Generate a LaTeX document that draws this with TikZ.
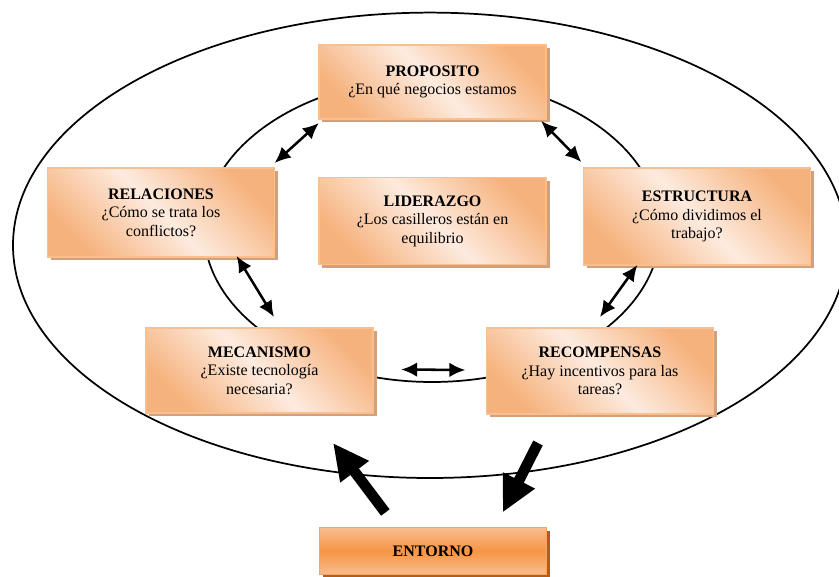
\documentclass[tikz,border=0pt]{standalone}
\usepackage{fontspec}
\setmainfont{Liberation Serif}
\usetikzlibrary{positioning,calc,shadows,arrows.meta}

\definecolor{borde}{HTML}{F9C08E}
\definecolor{oscuro}{HTML}{F6B27D}
\definecolor{clara}{HTML}{FDEBDF}
\definecolor{sombra}{HTML}{D2A07C}
\definecolor{entclaro}{HTML}{F9BD8F}
\definecolor{entmedio}{HTML}{F69545}
\definecolor{entborde}{HTML}{F7A465}
\definecolor{entsombra}{HTML}{B25E1A}

\begin{document}
\begin{tikzpicture}[x=0.75pt,y=-0.75pt,semithick]
    \tikzstyle{every node}=[font=\fontsize{12}{14}\selectfont]
    \tikzstyle{caja}=[rectangle,draw=borde,line width=1.2pt,outer sep=0pt,
        top color=oscuro,bottom color=oscuro,middle color=clara,shading angle=-45,
        minimum width=170.5pt,align=center,
        drop shadow={shadow xshift=2.5pt,shadow yshift=-2.5pt,fill=sombra,opacity=1}]
    \tikzstyle{entorno}=[rectangle,draw=entborde,line width=1.2pt,outer sep=0pt,
        top color=entclaro,bottom color=entclaro,middle color=entmedio,
        minimum width=170.5pt,minimum height=35.25pt,align=center,
        drop shadow={shadow xshift=2.5pt,shadow yshift=-2.5pt,fill=entsombra,opacity=1}]
    \tikzstyle{flecha}=[<->,>={Latex[length=12pt,width=11pt]},line width=1.9pt]
    \tikzstyle{grande}=[-{Triangle[length=27pt,width=25pt]},line width=8pt]

    \useasboundingbox (0,0) rectangle (839,577);

    % circulos
    \draw[line width=1.3pt] (430,245.3) ellipse (417 and 232.7);
    \draw[line width=1.3pt] (432,230) ellipse (228 and 152);

    \node[caja,minimum height=55.5pt] (P) at (432.5,82) {\textbf{PROPOSITO}\\¿En qué negocios estamos};
    \node[caja,minimum height=65.25pt] (L) [below=44pt of P] {\textbf{LIDERAZGO}\\¿Los casilleros están en\\equilibrio};
    \node[caja,minimum height=66.75pt] (R) at (161,212.5) {\textbf{RELACIONES}\\¿Cómo se trata los\\conflictos?};
    \node[caja,minimum height=72.75pt] (E) at (697,216.5) {\textbf{ESTRUCTURA}\\¿Cómo dividimos el\\trabajo?};
    \node[caja,minimum height=63.75pt] (M) at (259.5,370.5) {\textbf{MECANISMO}\\¿Existe tecnología\\necesaria?};
    \node[caja,minimum height=64.5pt] (T) at (600,371) {\textbf{RECOMPENSAS}\\¿Hay incentivos para las\\tareas?};
    \node[entorno] (N) at (433,551) {\textbf{ENTORNO}};

    \coordinate (inL) at (333,443);
    \coordinate (outR) at (538,443);

    \path
    ($(P.south west)+(0,4)$) edge[flecha] ($(R.north east)+(0,-5)$)
    ($(P.south east)+(-5,2)$) edge[flecha] ($(E.north west)+(-2,-6)$)
    ($(R.south east)+(-38,-1)$) edge[flecha] ($(M.north)+(14.5,-11)$)
    ($(E.south west)+(54,0)$) edge[flecha] ($(T.north)+(0,-11)$)
    ($(M.east)+(28,-1)$) edge[flecha] ($(T.west)+(-21,-1)$);

    \draw[grande] ($(N.north west)+(66,-15)$) -- (inL);
    \draw[grande] (outR) -- ($(N.north east)+(-44,-15)$);
\end{tikzpicture}
\end{document}
